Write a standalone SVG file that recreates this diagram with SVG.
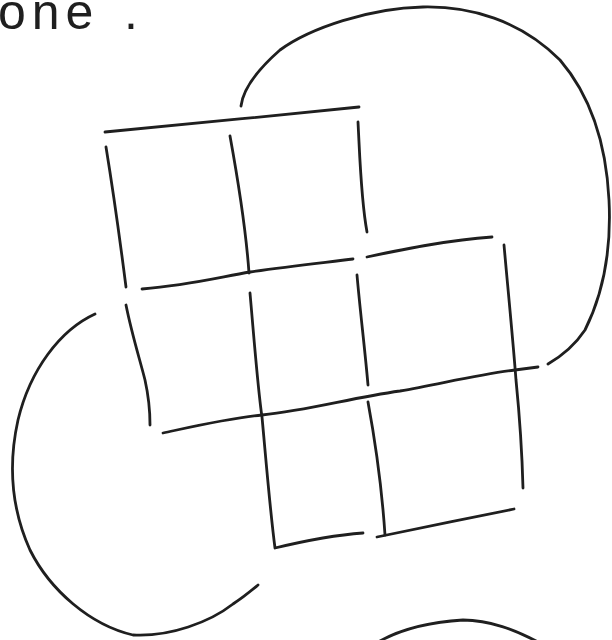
<svg xmlns="http://www.w3.org/2000/svg" width="612" height="640" viewBox="0 0 612 640">
<style>
.ink{fill:none;stroke:#1f1f1f;stroke-width:2.8;stroke-linecap:round;stroke-linejoin:round}
.lbl{font-family:"Liberation Sans","DejaVu Sans",sans-serif;font-size:50px;fill:#1f1f1f;letter-spacing:6px}
</style>
<rect width="612" height="640" fill="#ffffff"/>
<g id="title">
<text class="lbl" x="-2" y="29">one<tspan x="124">.</tspan></text>
</g>
<g id="loops">
<path class="ink" d="M241,106 C243,90 255,72 280,50 C310,28 370,8 423,7 C470,6 520,20 560,60 C590,95 606,140 609,200 C612,260 600,300 585,330 C575,345 560,357 548,364"/>
<path class="ink" d="M95,314 C60,330 30,370 18,420 C8,465 12,510 30,550 C50,590 90,625 133,635 C170,637 210,622 233,604 C245,596 252,590 258,585"/>
<path class="ink" d="M380,641 C400,630 430,622 463,620 C490,620 515,630 540,643"/>
</g>
<g id="grid">
<path class="ink" d="M105,132 C180,125 280,115 359,107"/>
<path class="ink" d="M106,147 C113,190 120,240 126,287"/>
<path class="ink" d="M230,136 C238,180 246,230 249,273"/>
<path class="ink" d="M358,122 C360,160 361,200 367,232"/>
<path class="ink" d="M142,289 C190,285 220,277 250,272 C290,266 330,262 353,259"/>
<path class="ink" d="M367,257 C410,248 450,240 492,237"/>
<path class="ink" d="M126,305 C132,335 140,360 145,380 C149,398 150,412 150,425"/>
<path class="ink" d="M250,293 C255,350 258,390 262,417 C266,460 270,510 275,548 C300,542 335,535 363,533"/>
<path class="ink" d="M357,275 C360,310 365,350 368,385"/>
<path class="ink" d="M368,402 C375,440 382,490 385,535"/>
<path class="ink" d="M377,537 C420,528 470,518 514,509"/>
<path class="ink" d="M504,245 C508,290 513,340 516,380 C520,420 522,450 523,488"/>
<path class="ink" d="M163,433 C200,425 230,418 262,415 C310,410 350,398 400,391 C440,384 480,374 515,370 L538,367"/>
</g>
</svg>
